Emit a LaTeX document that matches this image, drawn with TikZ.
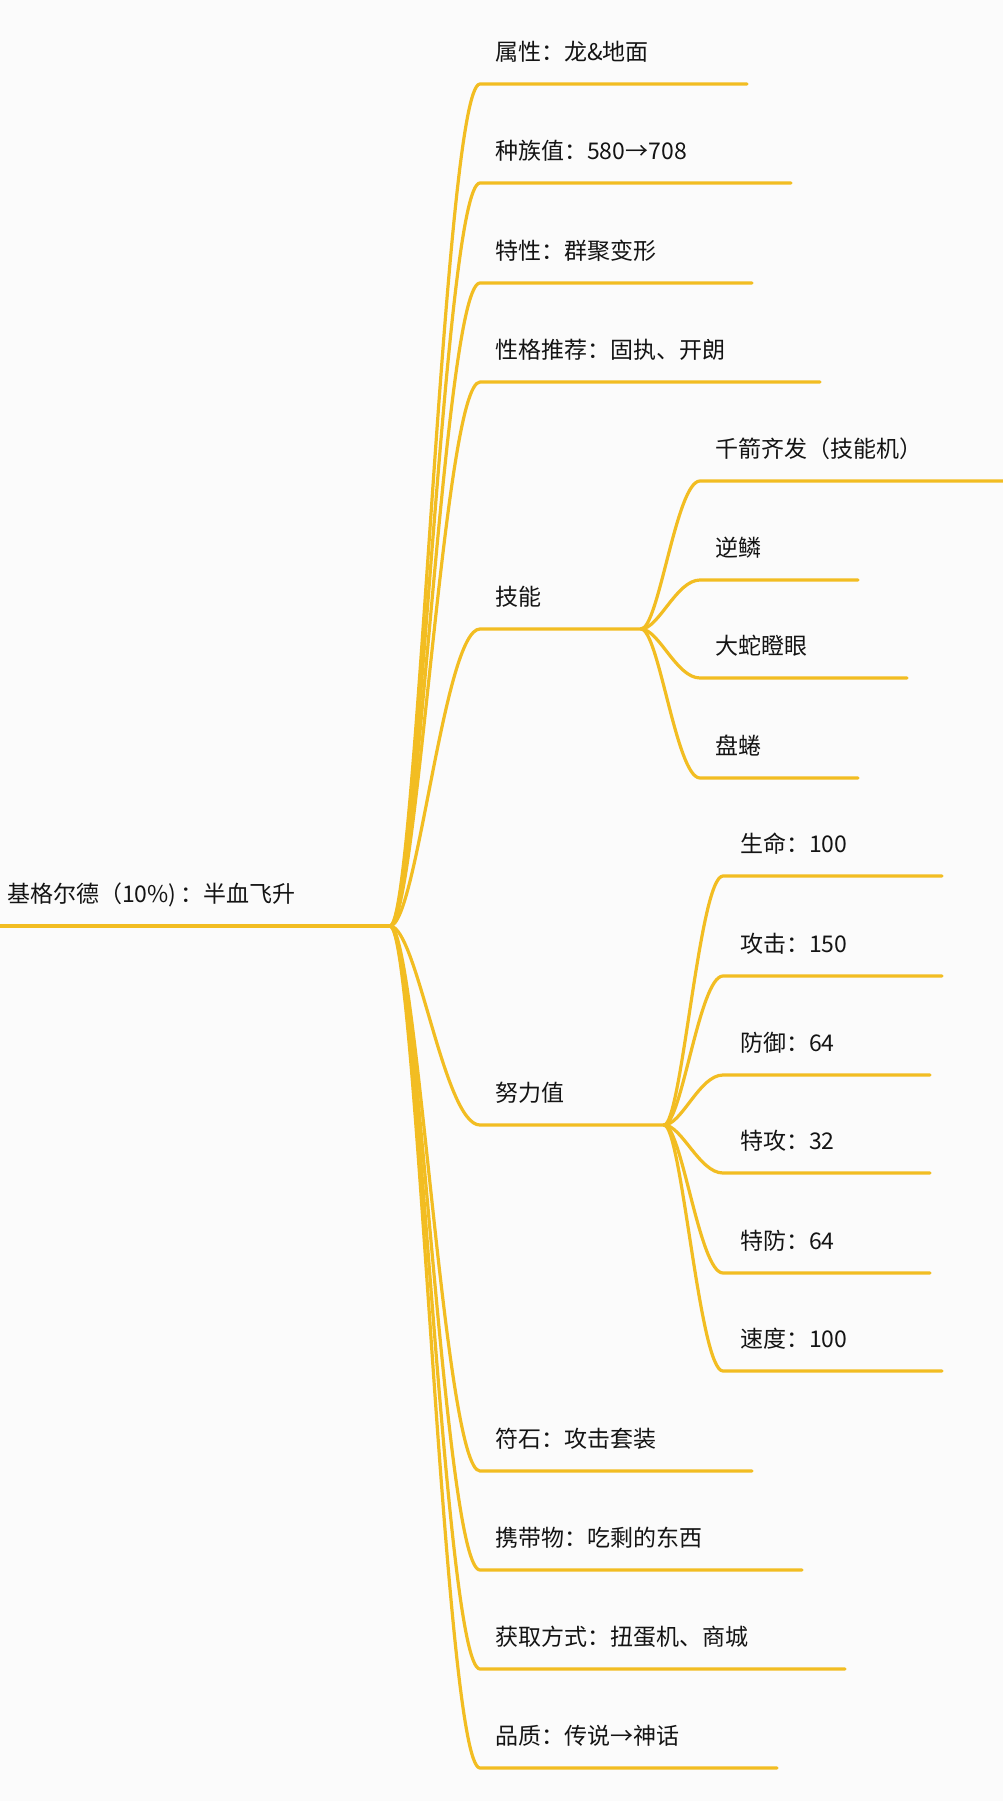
\documentclass[tikz,border=0pt]{standalone}
\usepackage{fontspec}
\setmainfont{Noto Sans CJK SC}
\usetikzlibrary{calc}
\definecolor{gold}{RGB}{242,189,34}
\definecolor{inkc}{RGB}{20,20,20}
\definecolor{bgc}{RGB}{251,251,251}
% #1 name, #2 parent junction, #3 curve end x, #4 underline y, #5 underline end x, #6 text x, #7 text, #8 horizontal span of the curve
\newcommand\mmbranch[8]{%
  \coordinate (#1s) at (#3,#4);
  \coordinate (#1e) at (#5,#4);
  \node[lbl] (#1) at (#6,#4-24) {#7};
  \draw[br] (#2) .. controls +(0.3*#8,0) and +(-0.4*#8,0) .. (#1s) -- (#1e);
}
\begin{document}
\begin{tikzpicture}[x=1pt,y=-1pt,
  br/.style={draw=gold,line width=3.2pt,line cap=round,line join=round},
  lbl/.style={anchor=base west,inner sep=0pt,text=inkc,font=\fontsize{23}{28}\selectfont}]
\fill[bgc] (0,0) rectangle (1003,1801);
\useasboundingbox (0,0) rectangle (1003,1801);

% root
\coordinate (r0) at (-2,926);
\coordinate (jR) at (390,926);
\node[lbl] (root) at (7,902) {基格尔德（10\%)\,：半血飞升};
\draw[br] (r0) -- (jR);

% level 1
\mmbranch{a}{jR}{480}{84}{747}{495}{属性：龙\&地面}{90}
\mmbranch{b}{jR}{480}{183}{791}{495}{种族值：580→708}{90}
\mmbranch{c}{jR}{480}{283}{752}{495}{特性：群聚变形}{90}
\mmbranch{d}{jR}{480}{382}{820}{495}{性格推荐：固执、开朗}{90}
\mmbranch{sk}{jR}{480}{629}{641}{495}{技能}{90}
\mmbranch{ev}{jR}{480}{1125}{664}{495}{努力值}{90}
\mmbranch{f}{jR}{480}{1471}{752}{495}{符石：攻击套装}{90}
\mmbranch{g}{jR}{480}{1570}{802}{495}{携带物：吃剩的东西}{90}
\mmbranch{h}{jR}{480}{1669}{845}{495}{获取方式：扭蛋机、商城}{90}
\mmbranch{q}{jR}{480}{1768}{777}{495}{品质：传说→神话}{90}

% skills
\mmbranch{s1}{ske}{700}{481}{1006}{715}{千箭齐发（技能机）}{59}
\mmbranch{s2}{ske}{700}{580}{858}{715}{逆鳞}{59}
\mmbranch{s3}{ske}{700}{678}{907}{715}{大蛇瞪眼}{59}
\mmbranch{s4}{ske}{700}{778}{858}{715}{盘蜷}{59}

% effort values
\mmbranch{e1}{eve}{723}{876}{942}{740}{生命：100}{59}
\mmbranch{e2}{eve}{723}{976}{942}{740}{攻击：150}{59}
\mmbranch{e3}{eve}{723}{1075}{930}{740}{防御：64}{59}
\mmbranch{e4}{eve}{723}{1173}{930}{740}{特攻：32}{59}
\mmbranch{e5}{eve}{723}{1273}{930}{740}{特防：64}{59}
\mmbranch{e6}{eve}{723}{1371}{942}{740}{速度：100}{59}
\end{tikzpicture}
\end{document}
